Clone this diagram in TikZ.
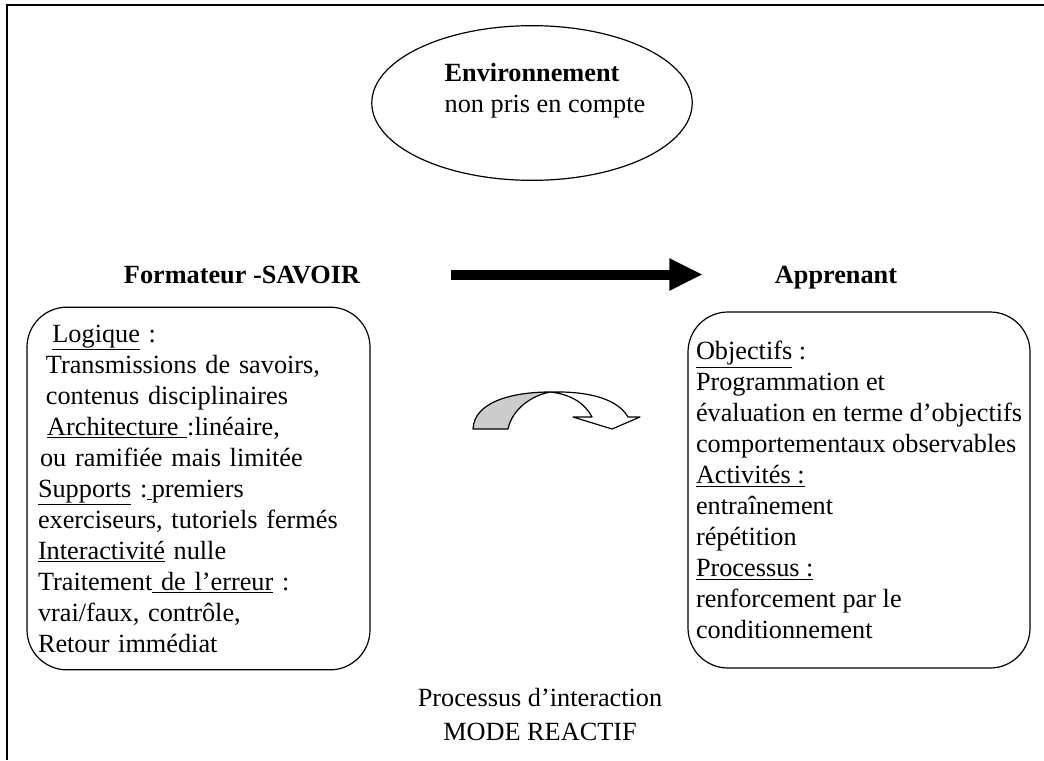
\documentclass[tikz,border=0pt]{standalone}
\usepackage{fontspec}
\setmainfont{Liberation Serif}
\usetikzlibrary{shapes.geometric, arrows.meta}
\tikzset{
	titre/.style={font=\fontsize{19.7}{23.25}\selectfont\bfseries, inner sep=0pt, anchor=base},
	cadre/.style={draw, rounded corners=30pt, line width=0.9pt, font=\fontsize{19.7}{23.25}\selectfont, align=left, inner ysep=0pt},
	nuage/.style={draw, ellipse, line width=0.9pt, minimum width=236pt, minimum height=116pt, inner sep=0pt, align=left, font=\fontsize{19.7}{23.25}\selectfont},
	legende/.style={font=\fontsize{19.7}{23.25}\selectfont, align=center, inner sep=0pt},
}

\begin{document}
\begin{tikzpicture}[x=0.75pt, y=-0.75pt]
		\useasboundingbox (0,0) rectangle (1044,760);
		% cadre de la page
		\draw[line width=1.5pt] (7,760) -- (7,5) -- (1044,5);
		
		\node (env) [nuage] at (532,103) {\hspace*{19.5pt}\textbf{Environnement}\\ \hspace*{19.5pt}non pris en compte\\ \mbox{}};
		
		\node (formateur) [titre] at (242,283) {Formateur -SAVOIR};
		\node (apprenant) [titre] at (836,283) {Apprenant};
		
		\node (savoir) [cadre, minimum width=257pt, minimum height=272pt, inner xsep=8.25pt, text width=240.75pt] at (198.5,488.5) {%
			\hspace*{0.55em}\underline{Logique} :\\
			\hspace*{0.3em}Transmissions de savoirs,\\
			\hspace*{0.3em}contenus disciplinaires\\
			\hspace*{0.35em}\underline{Architecture\ }:linéaire,\\
			\hspace*{0.08em}ou ramifiée mais limitée\\
			\underline{Supports}\ :\underline{\,}premiers\\
			exerciseurs, tutoriels fermés\\
			\underline{Interactivité} nulle\\
			Traitement\underline{\ de l’erreur} :\\
			vrai/faux, contrôle,\\
			Retour immédiat};
		
		\node (eleve) [cadre, minimum width=256.5pt, minimum height=267pt, inner xsep=0pt] at (859,490) {%
			\underline{Objectifs} :\\
			Programmation et\\
			évaluation en terme d’objectifs\\
			comportementaux observables\\
			\underline{Activités :}\\
			entraînement\\
			répétition\\
			\underline{Processus :}\\
			renforcement par le\\
			conditionnement};
		
		\node (mode) [legende] at (540,715) {Processus d’interaction\\[2.25pt] MODE REACTIF};
		
		\draw[line width=7.5pt, -{Triangle[length=25pt, width=22.5pt]}, shorten <=68pt, shorten >=54pt] (formateur.east) -- (formateur.east -| apprenant.west);
		
		% fleche courbe
		\begin{scope}[line width=0.9pt, line join=round]
			\filldraw[fill=black!20] (473,429) .. controls (474,402) and (512,392) .. (550,392) .. controls (530,396) and (512,410) .. (508,429) -- cycle;
			\filldraw[fill=white] (550,392) .. controls (592,391) and (618,400) .. (628,417) -- (640,417) -- (612,429) -- (573,417) -- (592,417) .. controls (585,403) and (570,394) .. (550,392) -- cycle;
		\end{scope}
	\end{tikzpicture}
\end{document}
